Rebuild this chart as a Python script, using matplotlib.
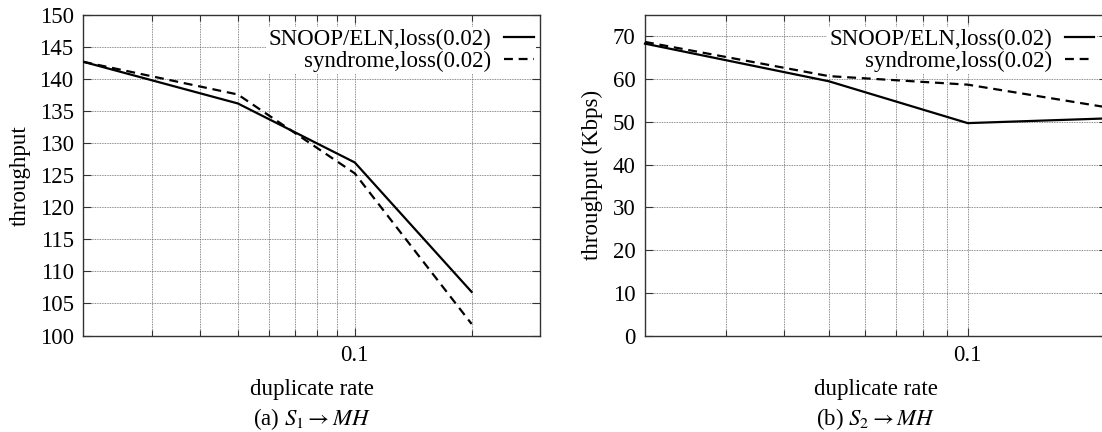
import matplotlib
matplotlib.use('Agg')
import matplotlib.pyplot as plt
from matplotlib.ticker import FixedLocator, FixedFormatter, NullFormatter

plt.rcParams['font.family'] = ['Liberation Serif', 'DejaVu Serif']
plt.rcParams['mathtext.fontset'] = 'stix'
plt.rcParams['font.size'] = 16.5

# duplicate rate (x) and throughput values
dup_rate = [0.02, 0.05, 0.1, 0.2]
s1_snoop = [142.7, 136.2, 127.0, 106.8]
s1_syndrome = [142.7, 137.6, 125.3, 101.8]
s2_snoop = [68.3, 59.5, 49.7, 50.8]
s2_syndrome = [68.7, 60.7, 58.7, 53.4]

label_snoop = 'SNOOP/ELN,loss(0.02)'
label_syn = 'syndrome,loss(0.02)'

minor_x = [0.03, 0.04, 0.05, 0.06, 0.07, 0.08, 0.09, 0.2, 0.3]

W, H = 1102, 432
fig = plt.figure(figsize=(W / 100, H / 100), dpi=100)

# axes boxes in pixels: left, right, top, bottom
ax1 = fig.add_axes([83.3 / W, (H - 335.5) / H, (540 - 83.3) / W, 320.5 / H])
ax2 = fig.add_axes([645 / W, (H - 335.5) / H, (1106.7 - 645) / W, 320.5 / H])

dash = (0, (4, 2.6))


def style(ax, xmax, yticks, ylim):
    ax.set_xscale('log')
    ax.set_xlim(0.02, xmax)
    ax.set_ylim(*ylim)
    ax.xaxis.set_major_locator(FixedLocator([0.1]))
    ax.xaxis.set_major_formatter(FixedFormatter(['0.1']))
    ax.xaxis.set_minor_locator(FixedLocator([m for m in minor_x if m < xmax]))
    ax.xaxis.set_minor_formatter(NullFormatter())
    ax.set_yticks(yticks)
    ax.tick_params(which='both', direction='in', top=True, right=True,
                   color='0.2', width=0.8)
    ax.tick_params(which='major', length=6, pad=7)
    ax.tick_params(which='minor', length=4)
    ax.grid(True, which='both', axis='x', color='0.4', lw=0.6, ls=(0, (1, 1)))
    ax.grid(True, which='major', axis='y', color='0.4', lw=0.6, ls=(0, (1, 1)))
    for s in ax.spines.values():
        s.set_color('0.2')
        s.set_linewidth(1.0)
    ax.set_xlabel('duplicate rate', labelpad=9)


style(ax1, 0.3, range(100, 151, 5), (100, 150))
style(ax2, 0.2, range(0, 71, 10), (0, 75))

ax1.plot(dup_rate, s1_snoop, color='black', lw=1.6, label=label_snoop, zorder=6)
ax1.plot(dup_rate, s1_syndrome, color='black', lw=1.6, ls=dash, label=label_syn, zorder=6)
ax2.plot(dup_rate, s2_snoop, color='black', lw=1.6, label=label_snoop, clip_on=False, zorder=6)
ax2.plot(dup_rate, s2_syndrome, color='black', lw=1.6, ls=dash, label=label_syn, clip_on=False, zorder=6)

ax1.set_ylabel('throughput', labelpad=6)
ax2.set_ylabel('throughput (Kbps)', labelpad=7)

for ax, anchor in [(ax1, (1 - 4 / 456.7, 1 - 12 / 320.5)), (ax2, (1 - 10 / 461.7, 1 - 12 / 320.5))]:
    leg = ax.legend(loc='upper right', bbox_to_anchor=anchor, markerfirst=False,
                    handlelength=1.3, handletextpad=0.55, labelspacing=0.0,
                    borderpad=0.1, borderaxespad=0, frameon=True, fancybox=False,
                    framealpha=1, edgecolor='none', facecolor='white')

fig.text((83.3 + 540) / 2 / W, (H - 419) / H, r'(a) $S_1 \rightarrow MH$', ha='center', va='center')
fig.text((645 + 1106.7) / 2 / W, (H - 419) / H, r'(b) $S_2 \rightarrow MH$', ha='center', va='center')

fig.savefig('out.png', dpi=100)
